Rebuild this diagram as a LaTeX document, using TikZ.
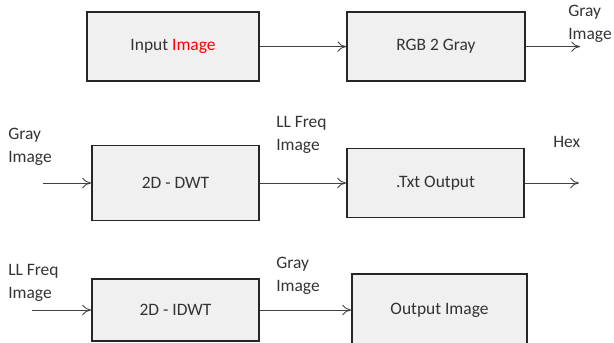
\documentclass[tikz,border=0pt]{standalone}
\usepackage{fontspec}
\setmainfont{Carlito}
\usetikzlibrary{arrows.meta}

\begin{document}
\begin{tikzpicture}[
        font=\fontsize{12.4}{16.3}\selectfont,
        stage/.style={rectangle, draw=black!85, fill=black!6, line width=1.2pt,
                      text=black!80, align=center},
        lbl/.style={anchor=west, align=left, inner sep=0pt, text=black!80},
        arr/.style={-{To[length=2.2mm,width=2.6mm]}, black!75, line width=0.6pt}
      ]
        \useasboundingbox (0,0) rectangle (15.35,8.575);
        \clip (0,0) rectangle (15.35,8.575);

        \node[stage, minimum width=4.3cm,   minimum height=1.725cm] (inp)  at (4.325,7.41)   {Input \textcolor{red}{Image}};
        \node[stage, minimum width=4.45cm,  minimum height=1.725cm] (gray) at (10.9,7.41)    {RGB 2 Gray};
        \node[stage, minimum width=4.175cm, minimum height=1.875cm] (dwt)  at (4.3875,4.0)   {2D - DWT};
        \node[stage, minimum width=4.425cm, minimum height=1.725cm] (txt)  at (10.8875,4.0)  {.Txt Output};
        \node[stage, minimum width=4.175cm, minimum height=1.55cm]  (idwt) at (4.3875,0.825) {2D - IDWT};
        \node[stage, minimum width=4.375cm, minimum height=1.8cm]   (outp) at (10.9875,0.825) {Output Image};

        \coordinate (o1) at (14.5,7.41);
        \coordinate (gin) at (1.075,4.0);
        \coordinate (o2) at (14.475,4.0);
        \coordinate (lin) at (0.8,0.825);

        \draw[arr] (inp) -- (gray);
        \draw[arr] (gray) -- (o1);
        \draw[arr] (gin) -- (dwt);
        \draw[arr] (dwt) -- (txt);
        \draw[arr] (txt) -- (o2);
        \draw[arr] (lin) -- (idwt);
        \draw[arr] (idwt) -- (outp);

        \node[lbl] (l1) at (14.2,7.99)  {Gray\\Image};
        \node[lbl] (l2) at (0.2,4.9)    {Gray\\Image};
        \node[lbl] (l3) at (6.9,5.2)    {LL Freq\\Image};
        \node[lbl] (l4) at (13.825,5.025) {Hex};
        \node[lbl] (l5) at (0.2,1.5)    {LL Freq\\Image};
        \node[lbl] (l6) at (6.9,1.675)  {Gray\\Image};
      \end{tikzpicture}
\end{document}
